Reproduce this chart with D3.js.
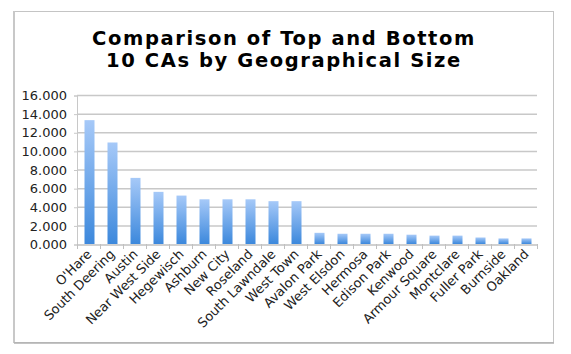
<!DOCTYPE html>
<html><head><meta charset="utf-8">
<script src="https://cdn.jsdelivr.net/npm/d3@7"></script>
<style>body{margin:0;background:#fff;}svg{display:block;}</style>
</head><body>
<svg id="c" width="571" height="354"></svg>
<script>
const categories = ["O'Hare","South Deering","Austin","Near West Side","Hegewisch","Ashburn","New City","Roseland","South Lawndale","West Town","Avalon Park","West Elsdon","Hermosa","Edison Park","Kenwood","Armour Square","Montclare","Fuller Park","Burnside","Oakland"];
const values = [13.3,10.9,7.1,5.6,5.2,4.8,4.8,4.8,4.6,4.6,1.2,1.1,1.1,1.1,1.0,0.9,0.9,0.7,0.6,0.6];
const yTicks = [0,2,4,6,8,10,12,14,16];
const titleLines = ["Comparison of Top and Bottom","10 CAs by Geographical Size"];

const svg = d3.select("#c");
const font = "DejaVu Sans, Verdana, sans-serif";
// frame
svg.append("rect").attr("x",14.5).attr("y",11.5).attr("width",539).attr("height",331)
  .attr("fill","#fff").attr("stroke","#c4c4c4").attr("stroke-width",1);
svg.append("line").attr("x1",14).attr("x2",14).attr("y1",11).attr("y2",343).attr("stroke","#c8c8c8").attr("stroke-width",2);
svg.append("line").attr("x1",14).attr("x2",554).attr("y1",343).attr("y2",343).attr("stroke","#b0b0b0").attr("stroke-width",1.5);

const m = {l:77,r:537,t:95,b:244};
const x = d3.scaleBand().domain(categories).range([m.l,m.r]);
const y = d3.scaleLinear().domain([0,16]).range([m.b,m.t]);

const defs = svg.append("defs");
const g = defs.append("linearGradient").attr("id","bg").attr("x1",0).attr("x2",0).attr("y1",0).attr("y2",1);
g.append("stop").attr("offset","0%").attr("stop-color","#a6c9f8");
g.append("stop").attr("offset","100%").attr("stop-color","#3c88dc");

// gridlines
svg.append("g").selectAll("line").data(yTicks.filter(d=>d>0)).join("line")
  .attr("x1",m.l).attr("x2",m.r).attr("y1",d=>y(d)+0.5).attr("y2",d=>y(d)+0.5)
  .attr("stroke","#c8c8c8").attr("stroke-width",1.5);

// y axis
const ya = svg.append("g").attr("transform",`translate(${m.l},0.5)`)
  .call(d3.axisLeft(y).tickValues(yTicks).tickFormat(d3.format(".3f")).tickSize(3).tickPadding(7));
ya.select(".domain").attr("stroke","#c8c8c8");
ya.selectAll(".tick line").attr("stroke","#c8c8c8");
ya.selectAll("text").attr("font-family",font).attr("font-size","13px").attr("fill","#222");

// bars
const bw = 10;
svg.append("g").selectAll("rect").data(values).join("rect")
  .attr("x",(d,i)=>x(categories[i])+x.bandwidth()/2-bw/2+1)
  .attr("y",d=>y(d)).attr("width",bw).attr("height",d=>y(0)-y(d))
  .attr("fill","url(#bg)");

// x axis
const xa = svg.append("g").attr("transform",`translate(0,${m.b+0.5})`)
  .call(d3.axisBottom(x).tickSize(0).tickFormat(""));
xa.select(".domain").attr("stroke","#c0c0c0").attr("stroke-width",1.5);
svg.append("g").selectAll("line").data(d3.range(categories.length+1)).join("line")
  .attr("x1",i=>m.l+i*x.bandwidth()+0.5).attr("x2",i=>m.l+i*x.bandwidth()+0.5)
  .attr("y1",m.b).attr("y2",m.b+5).attr("stroke","#c0c0c0");

svg.append("g").selectAll("text").data(categories).join("text")
  .attr("transform",d=>`translate(${x(d)+x.bandwidth()/2+4},${m.b+11}) rotate(-45)`)
  .attr("text-anchor","end").attr("font-family",font).attr("font-size","13px").attr("fill","#222")
  .text(d=>d);

// title
svg.append("g").selectAll("text").data(titleLines).join("text")
  .attr("x",284).attr("y",(d,i)=>44.5+i*22.8).attr("text-anchor","middle")
  .attr("font-family",font).attr("font-weight","bold").attr("font-size","19.5px")
  .attr("letter-spacing","1.6px").attr("fill","#000")
  .text(d=>d);
</script>
</body></html>
